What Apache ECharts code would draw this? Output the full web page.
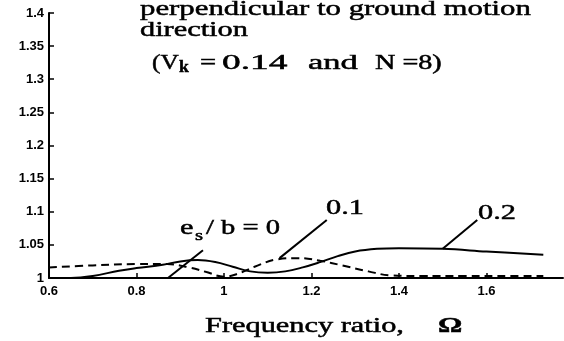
<!DOCTYPE html>
<html>
<head>
<meta charset="utf-8">
<script src="https://cdn.jsdelivr.net/npm/echarts@6/dist/echarts.min.js"></script>
<style>
  html, body { margin: 0; padding: 0; background: #fff; }
  #chart { width: 564px; height: 341px; }
</style>
</head>
<body>
<div id="chart"></div>
<script>
// Frequency ratio (Omega) and response ratio for each eccentricity e_s/b
const freqEs0 = [0.6, 1.73];
const respEs0 = [1.0, 1.0];

const freqEs01 = [0.6, 0.7, 0.8, 0.87, 0.92, 0.96, 1.0, 1.03, 1.07, 1.12, 1.17, 1.22, 1.27, 1.33, 1.38, 1.45, 1.55, 1.65, 1.73];
const respEs01 = [1.016, 1.019, 1.021, 1.021, 1.016, 1.009, 1.002, 1.006, 1.017, 1.028, 1.030, 1.026, 1.019, 1.010, 1.004, 1.003, 1.003, 1.003, 1.003];

const freqEs02 = [0.6, 0.65, 0.7, 0.76, 0.8, 0.86, 0.9, 0.94, 0.98, 1.02, 1.06, 1.1, 1.14, 1.18, 1.22, 1.26, 1.3, 1.35, 1.4, 1.5, 1.6, 1.73];
const respEs02 = [1.0, 1.0, 1.003, 1.011, 1.015, 1.020, 1.025, 1.027, 1.024, 1.017, 1.010, 1.008, 1.010, 1.016, 1.024, 1.033, 1.040, 1.044, 1.045, 1.044, 1.040, 1.035];

const xTicks = [0.6, 0.8, 1, 1.2, 1.4, 1.6];

// Leader lines from each curve to its e_s/b label (data coordinates)
const leaderEs0 = [[0.872, 1.0], [0.952, 1.042]];
const leaderEs01 = [[1.127, 1.030], [1.235, 1.0875]];
const leaderEs02 = [[1.50, 1.044], [1.579, 1.0875]];

const pairs = (xs, ys) => xs.map((x, i) => [x, ys[i]]);
const leader = (seg) => ({
  silent: true,
  symbol: 'none',
  label: { show: false },
  lineStyle: { color: '#000', width: 2, type: 'solid' },
  emphasis: { disabled: true },
  data: [[{ coord: seg[0] }, { coord: seg[1] }]]
});

const SERIF = '"Liberation Serif", "Times New Roman", serif';
const SANS = '"Liberation Sans", Arial, sans-serif';

// Horizontally stretched serif text; y is the vertical middle of the line
function txt(text, x, y, size, opts) {
  opts = opts || {};
  return {
    type: 'text', x: x, y: y, scaleX: opts.sx || 1.38, silent: true,
    style: {
      text: text,
      font: (opts.bold ? 'bold ' : '') + size + 'px ' + SERIF,
      fill: '#000',
      stroke: '#000',
      lineWidth: 0.5,
      textAlign: 'left',
      textVerticalAlign: 'middle'
    }
  };
}

const chart = echarts.init(document.getElementById('chart'), null, { renderer: 'canvas' });

chart.setOption({
  animation: false,
  backgroundColor: '#fff',
  grid: { left: 49, right: 1, top: 13, bottom: 63, containLabel: false },
  xAxis: {
    type: 'value',
    min: 0.6, max: 1.775,
    splitLine: { show: false },
    axisLine: { show: true, onZero: false, lineStyle: { color: '#000', width: 2 } },
    axisTick: { show: true, inside: true, length: 5, customValues: xTicks, lineStyle: { color: '#000', width: 1.5 } },
    axisLabel: {
      customValues: xTicks, margin: 7, color: '#000',
      fontFamily: SANS, fontWeight: 'bold', fontSize: 13
    }
  },
  yAxis: {
    type: 'value',
    min: 1, max: 1.4, interval: 0.05,
    splitLine: { show: false },
    axisLine: { show: true, onZero: false, lineStyle: { color: '#000', width: 2 } },
    axisTick: { show: true, inside: true, length: 5, lineStyle: { color: '#000', width: 1.5 } },
    axisLabel: {
      margin: 5, color: '#000',
      fontFamily: SANS, fontWeight: 'bold', fontSize: 13
    }
  },
  series: [
    {
      name: 'e_s/b = 0', type: 'line', data: pairs(freqEs0, respEs0),
      showSymbol: false, lineStyle: { color: '#000', width: 2 },
      markLine: leader(leaderEs0)
    },
    {
      name: 'e_s/b = 0.1', type: 'line', smooth: 0.4, data: pairs(freqEs01, respEs01),
      showSymbol: false, lineStyle: { color: '#000', width: 2, type: [8, 5] },
      markLine: leader(leaderEs01)
    },
    {
      name: 'e_s/b = 0.2', type: 'line', smooth: 0.4, data: pairs(freqEs02, respEs02),
      showSymbol: false, lineStyle: { color: '#000', width: 2 },
      markLine: leader(leaderEs02)
    }
  ],
  graphic: [
    txt('perpendicular to ground motion', 140, 9.3, 22, { sx: 1.4 }),
    txt('direction', 140, 30.3, 22),
    txt('(V', 152, 63.3, 22, { sx: 1.15 }),
    txt('k', 179, 68.1, 16, { bold: true, sx: 1.1 }),
    txt('=', 200, 63.3, 22, { sx: 1.3 }),
    txt('0.14', 222, 63.3, 22, { sx: 1.7 }),
    txt('and', 308, 63.3, 22, { sx: 1.57 }),
    txt('N =8)', 375, 63.3, 22, { sx: 1.28 }),
    txt('e', 180, 228.3, 22),
    txt('s', 195, 236.4, 15),
    txt('/ b = 0', 206, 228.3, 22, { sx: 1.3 }),
    txt('0.1', 326, 208.6, 22),
    txt('0.2', 478, 213.3, 22),
    txt('Frequency ratio,', 205, 326.3, 22),
    txt('\u03A9', 438, 326.3, 22, { bold: true })
  ]
});
</script>
</body>
</html>
